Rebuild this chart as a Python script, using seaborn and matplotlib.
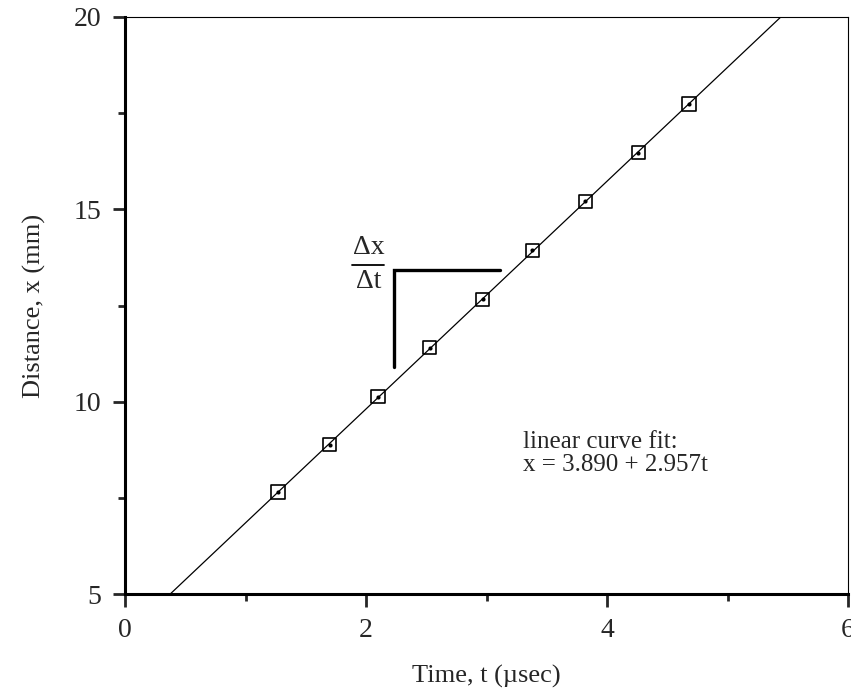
import numpy as np
import pandas as pd
import matplotlib
matplotlib.use("Agg")
import matplotlib.pyplot as plt
import seaborn as sns
from matplotlib.ticker import MultipleLocator

time_us = [1.27, 1.70, 2.10, 2.53, 2.97, 3.38, 3.82, 4.26, 4.68]
dist_mm = [7.65, 8.88, 10.13, 11.40, 12.66, 13.93, 15.21, 16.47, 17.74]

fit_text = ["linear curve fit:", "x = 3.890 + 2.957t"]

# slope sketch (corner and ends, in data units)
slope_t = [2.235, 2.235, 3.11]
slope_x = [10.91, 13.42, 13.42]

df = pd.DataFrame({"t": time_us, "x": dist_mm})

sns.set_theme(style="white")
plt.rcParams['font.family'] = ['Liberation Serif', 'DejaVu Serif']

fig = plt.figure(figsize=(8.51, 6.92), dpi=100)
ax = fig.add_axes([125 / 851, 1 - 594 / 692, 723 / 851, 577 / 692])
ax.set_xlim(0, 6)
ax.set_ylim(5, 20)

# fitted line across the whole axis
sns.regplot(data=df, x="t", y="x", ax=ax, scatter=False, ci=None, truncate=False,
            line_kws=dict(color="black", lw=0.9))

# open squares with a dot in the middle
sns.scatterplot(data=df, x="t", y="x", ax=ax, marker="s", s=90,
                facecolor="none", edgecolor="black", linewidth=1.2, zorder=3)
sns.scatterplot(data=df, x="t", y="x", ax=ax, marker="o", s=9,
                color="black", linewidth=0, zorder=4)

# delta-x over delta-t sketch
ax.plot(slope_t, slope_x, color="black", lw=2.4, solid_joinstyle="miter")
ax.text(2.02, 13.85, "Δx", ha="center", va="baseline", fontsize=20)
ax.plot([1.88, 2.15], [13.56, 13.56], color="black", lw=1.3)
ax.text(2.02, 12.95, "Δt", ha="center", va="baseline", fontsize=20)

ax.text(3.30, 8.80, fit_text[0], ha="left", va="baseline", fontsize=18)
ax.text(3.30, 8.20, fit_text[1], ha="left", va="baseline", fontsize=18)

ax.set_xticks([0, 2, 4, 6])
ax.set_yticks([5, 10, 15, 20])
ax.xaxis.set_minor_locator(MultipleLocator(1))
ax.yaxis.set_minor_locator(MultipleLocator(2.5))
ax.tick_params(which="major", direction="out", length=9, width=2, labelsize=20,
               bottom=True, left=True, top=False, right=False, pad=8)
ax.tick_params(which="minor", direction="out", length=5, width=2,
               bottom=True, left=True, top=False, right=False)

for side in ["left", "bottom"]:
    ax.spines[side].set_linewidth(2.2)
for side in ["top", "right"]:
    ax.spines[side].set_linewidth(0.8)
for sp in ax.spines.values():
    sp.set_color("black")

ax.set_xlabel("Time, t (µsec)", fontsize=19, labelpad=16)
ax.set_ylabel("Distance, x (mm)", fontsize=19, labelpad=20)

fig.savefig("out.png", dpi=100)
